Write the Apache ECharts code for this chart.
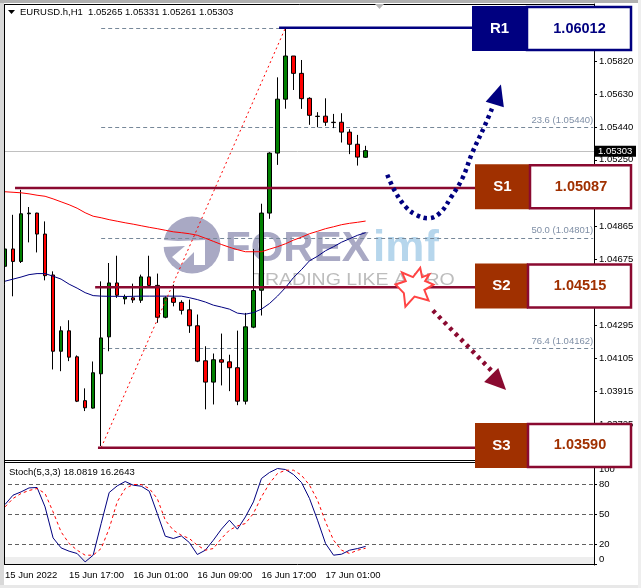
<!DOCTYPE html>
<html>
<head>
<meta charset="utf-8">
<title>EURUSD.h H1</title>
<script src="https://cdn.jsdelivr.net/npm/echarts@6/dist/echarts.min.js"></script>
<style>
  html, body { margin: 0; padding: 0; background: #fff; }
  #chart { width: 641px; height: 588px; }
</style>
</head>
<body>
<div id="chart"></div>
<script>
// [open, close, low, high], one row per H1 bar
const candles = [
  [1.04636,1.04736,1.04530,1.04945],[1.04736,1.04664,1.04463,1.04933],[1.04664,1.04939,1.04655,1.05077],
  [1.04939,1.04943,1.04774,1.04978],[1.04943,1.04822,1.04716,1.04945],[1.04822,1.04582,1.04555,1.04895],
  [1.04586,1.04146,1.04041,1.04607],[1.04146,1.04264,1.04031,1.04290],[1.04264,1.04112,1.04089,1.04325],
  [1.04114,1.03858,1.03853,1.04122],[1.03861,1.03820,1.03801,1.03932],[1.03818,1.04022,1.03815,1.04087],
  [1.04016,1.04223,1.03599,1.04549],[1.04229,1.04540,1.04146,1.04655],[1.04540,1.04469,1.04454,1.04697],
  [1.04448,1.04460,1.04417,1.04473],[1.04454,1.04442,1.04425,1.04536],[1.04440,1.04575,1.04425,1.04588],
  [1.04575,1.04526,1.04526,1.04697],[1.04526,1.04342,1.04310,1.04594],[1.04342,1.04454,1.04336,1.04463],
  [1.04454,1.04428,1.04405,1.04530],[1.04428,1.04382,1.04358,1.04440],[1.04385,1.04293,1.04252,1.04444],
  [1.04293,1.04089,1.04083,1.04358],[1.04091,1.03968,1.03811,1.04175],[1.03968,1.04097,1.03839,1.04133],
  [1.04097,1.04083,1.03949,1.04248],[1.04085,1.04051,1.03916,1.04126],[1.04051,1.03858,1.03835,1.04265],
  [1.03858,1.04287,1.03839,1.04367],[1.04285,1.04496,1.04279,1.04736],[1.04498,1.04943,1.04352,1.04997],
  [1.04943,1.05289,1.04910,1.05294],[1.05289,1.05600,1.05221,1.05726],[1.05600,1.05849,1.05545,1.06012],
  [1.05849,1.05749,1.05653,1.05849],[1.05749,1.05603,1.05544,1.05826],[1.05605,1.05507,1.05452,1.05611],
  [1.05502,1.05500,1.05438,1.05525],[1.05502,1.05467,1.05446,1.05605],[1.05467,1.05465,1.05433,1.05515],
  [1.05467,1.05410,1.05350,1.05519],[1.05410,1.05340,1.05283,1.05427],[1.05340,1.05266,1.05217,1.05394],
  [1.05265,1.05303,1.05261,1.05331]
]
const maSlow = [
  1.05066,1.05063,1.05060,1.05054,1.05046,1.05040,1.05025,1.05008,1.04991,1.04971,1.04945,1.04925,
  1.04916,1.04905,1.04896,1.04887,1.04879,1.04870,1.04861,1.04853,1.04844,1.04835,1.04830,1.04824,
  1.04815,1.04798,1.04780,1.04762,1.04746,1.04732,1.04720,1.04720,1.04720,1.04735,1.04749,1.04766,
  1.04787,1.04804,1.04824,1.04838,1.04853,1.04864,1.04876,1.04884,1.04890,1.04897
]
const maFast = [
  1.04550,1.04562,1.04574,1.04588,1.04594,1.04594,1.04579,1.04562,1.04533,1.04510,1.04484,1.04467,
  1.04464,1.04463,1.04463,1.04462,1.04463,1.04464,1.04464,1.04464,1.04464,1.04464,1.04464,1.04455,
  1.04444,1.04430,1.04412,1.04401,1.04389,1.04366,1.04360,1.04369,1.04389,1.04421,1.04464,1.04513,
  1.04571,1.04617,1.04668,1.04694,1.04726,1.04749,1.04775,1.04795,1.04815,1.04830
]
const stochK = [
  60,69.3,72.6,76.6,77,57.6,26.6,16.6,13.3,11,2.6,9.3,41,72,78.6,83,79.3,78.3,73.3,51,28.3,26,28.6,22,
  10,14.3,24.3,35.3,44.3,35.3,47.6,62.6,86,92,96,95,90,82,66,44.3,21,9.3,10.3,14.3,16,18.08
]
const stochD = [
  57.6,66,71,74,76,71,52.6,32.6,21,14.3,9.3,9.3,16,36,62.6,76,80,80,76,66,44.3,34.3,29.3,26,
  19.3,14.3,16,26,34.3,38.6,41,51,67.6,81,91,94.3,94.3,89.3,79.3,64.3,42.6,24.3,14.3,11,14.3,16.26
]

const priceTicks = [1.0582,1.0563,1.0544,1.0525,1.04865,1.04675,1.04295,1.04105,1.03915,1.03725]
const stochTicks = [0,20,50,80,100]
const stochLevels = [80,50,20]
const timeLabels = ['15 Jun 2022','15 Jun 17:00','16 Jun 01:00','16 Jun 09:00','16 Jun 17:00','17 Jun 01:00']

const currentPrice = 1.05303
const fibNames = ['23.6','50.0','76.4']
const fibPrices = [1.0544,1.04801,1.04162]
const fibTop = 1.06012
const fibBottom = 1.0359

const levelNames = ['R1','S1','S2','S3']
const levelPrices = [1.06012,1.05087,1.04515,1.0359]
const levelStarts = [34.2,1.25,11.25,11.6]

// x is a bar number, the two arrows run on past the last bar
const upArrow = [
  [47.7,1.05164],[48.7,1.05066],[50.0,1.04979],[51.3,1.04933],[52.8,1.04913],[54.3,1.04945],
  [55.7,1.05037],[57.1,1.05146],[58.3,1.05290],[59.8,1.05440],[60.8,1.05549]
]
const upArrowHead = [61.5,1.05627]
const downArrow = [[53.4,1.04381],[61.3,1.04006]]
const downArrowHead = [61.6,1.03966]
const breakMark = [51.1,1.04515]

const slots = 74
const lastSlot = 73.4
const labelFont = '"Liberation Sans", Arial, sans-serif'
const navy = '#000080'
const crimson = '#8a0a30'
const rust = '#a03000'

const categories = []
for (let i = 0; i < slots; i++) {
  categories.push(i % 8 === 0 && timeLabels[i / 8] ? timeLabels[i / 8] : '')
}
const barData = (vals) => vals.map((v, i) => [i, v])

const chart = echarts.init(document.getElementById('chart'))

// R1 / S1 / S2 / S3 boxes, hung on their price
const boxLeft = [472, 475, 475, 475]
const boxMid = [527, 530, 528, 528]
const boxShift = [0.8, -1.4, -1.4, -2.2]
const renderLevelBox = (params, api) => {
  const i = params.dataIndex
  const y = api.coord([0, api.value(1)])[1] + boxShift[i]
  const isR = levelNames[i][0] === 'R'
  const edge = isR ? navy : crimson
  const left = boxLeft[i]
  const mid = boxMid[i]
  const top = y - 22.5
  return {
    type: 'group',
    children: [
      { type: 'rect', shape: { x: left, y: top, width: mid - left, height: 45 }, style: { fill: isR ? navy : rust } },
      { type: 'rect', shape: { x: mid, y: top + 1, width: 632 - mid - 1, height: 43 }, style: { fill: '#fff', stroke: edge, lineWidth: 2.5 } },
      { type: 'text', style: { text: levelNames[i], x: (left + mid) / 2, y: y, align: 'center', verticalAlign: 'middle', fill: '#fff', font: 'bold 15px ' + labelFont } },
      { type: 'text', style: { text: levelPrices[i].toFixed(5), x: (mid + 632) / 2, y: y, align: 'center', verticalAlign: 'middle', fill: isR ? navy : rust, font: 'bold 14.5px ' + labelFont } }
    ]
  }
}

// thin level lines snapped to a pixel row so they stay crisp
const renderThinLine = (params, api) => {
  const p0 = api.coord([api.value(0), api.value(2)])
  const p1 = api.coord([api.value(1), api.value(2)])
  const y = Math.floor(p0[1] + 0.4) + 0.5
  const solid = api.value(3) === 1
  return {
    type: 'line',
    shape: { x1: p0[0], y1: y, x2: p1[0], y2: y },
    style: { stroke: solid ? '#c0c0c0' : '#778899', lineWidth: 1, lineDash: solid ? null : [4, 3] }
  }
}

const renderFibLabel = (params, api) => {
  const p = api.coord([lastSlot, api.value(1)])
  return {
    type: 'text',
    style: {
      text: fibNames[params.dataIndex] + ' (' + fibPrices[params.dataIndex].toFixed(5) + ')',
      x: p[0], y: p[1] - 2, align: 'right', verticalAlign: 'bottom',
      fill: '#7f8fa6', font: '9.5px ' + labelFont
    }
  }
}

const renderPriceTag = (params, api) => {
  const y = api.coord([0, api.value(1)])[1]
  return {
    type: 'group',
    children: [
      { type: 'rect', shape: { x: 595, y: y - 5, width: 41, height: 11 }, style: { fill: '#000' } },
      { type: 'text', style: { text: currentPrice.toFixed(5), x: 598, y: y + 0.5, align: 'left', verticalAlign: 'middle', fill: '#fff', font: '9.5px ' + labelFont } }
    ]
  }
}

const overlay = { xAxisIndex: 1, yAxisIndex: 0 }
const levelLine = (x0, price, color) => ({
  type: 'line', ...overlay, silent: true, showSymbol: false, z: 4,
  lineStyle: { color: color, width: 2.5 },
  data: [[x0, price], [60, price]]
})

chart.setOption({
  animation: false,
  backgroundColor: '#fff',
  textStyle: { fontFamily: labelFont },
  grid: [
    { left: 1, top: 4, width: 593, height: 457 },
    { left: 1, top: 462, width: 593, height: 103 }
  ],
  xAxis: [
    { type: 'category', gridIndex: 0, data: categories, show: false },
    { type: 'value', gridIndex: 0, min: -0.5, max: slots - 0.5, show: false },
    {
      type: 'category', gridIndex: 1, data: categories,
      axisLine: { lineStyle: { color: '#000' } },
      axisTick: { alignWithLabel: true, length: 3, lineStyle: { color: '#000' }, interval: (i) => i % 8 === 0 && i < 48 },
      axisLabel: { interval: 7, align: 'left', margin: 5, color: '#000', fontSize: 9.5, fontFamily: labelFont, hideOverlap: false }
    }
  ],
  yAxis: [
    {
      type: 'value', gridIndex: 0, position: 'right', min: 1.03513, max: 1.06149, splitLine: { show: false },
      axisLine: { show: true, onZero: false, lineStyle: { color: '#000' } },
      axisTick: { show: true, length: 3, customValues: priceTicks, lineStyle: { color: '#000' } },
      axisLabel: { customValues: priceTicks, margin: 5, color: '#000', fontSize: 9.5, fontFamily: labelFont, formatter: (v) => v.toFixed(5) }
    },
    {
      type: 'value', gridIndex: 1, position: 'right', min: -0.5, max: 102.5, splitLine: { show: false },
      axisLine: { show: true, onZero: false, lineStyle: { color: '#000' } },
      axisTick: { show: true, length: 3, customValues: stochTicks, lineStyle: { color: '#000' } },
      axisLabel: {
        customValues: stochTicks, margin: 5, color: '#000', fontSize: 9.5, fontFamily: labelFont,
        verticalAlignMinLabel: 'bottom', verticalAlignMaxLabel: 'top'
      }
    }
  ],
  graphic: [
    // FOREXimf watermark, behind the candles
    { type: 'circle', z: -1, shape: { cx: 192, cy: 245, r: 28.5 }, style: { fill: '#a9a9c4' } },
    { type: 'polygon', z: -1, shape: { points: [[163,240],[178,241],[205,240],[205,265],[194,265],[194,252],[181,265],[172,257],[185,246],[163,247]] }, style: { fill: '#fff' } },
    { type: 'text', z: -1, style: { text: 'FOREX', x: 225, y: 249, verticalAlign: 'middle', fill: '#a9a9c4', font: 'bold 42px ' + labelFont } },
    { type: 'text', z: -1, style: { text: 'imf', x: 373, y: 249, verticalAlign: 'middle', fill: '#b6d6ec', font: 'bold 44px ' + labelFont } },
    { type: 'text', z: -1, x: 253, y: 281, scaleX: 1.22, style: { text: 'TRADING LIKE A PRO', x: 0, y: 0, verticalAlign: 'middle', fill: '#bdbdbd', font: '16px ' + labelFont } },
    // window edges and panel frame
    { type: 'rect', z: 50, shape: { x: 0, y: 0, width: 4, height: 588 }, style: { fill: '#d8d8d8' } },
    { type: 'rect', z: 50, shape: { x: 0, y: 0, width: 641, height: 3 }, style: { fill: '#b0b0b0' } },
    { type: 'rect', z: 50, shape: { x: 0, y: 585, width: 641, height: 3 }, style: { fill: '#e8e8e8' } },
    { type: 'rect', z: 50, shape: { x: 638, y: 0, width: 3, height: 588 }, style: { fill: '#eeeeee' } },
    { type: 'line', z: 51, shape: { x1: 4.5, y1: 4.5, x2: 594, y2: 4.5 }, style: { stroke: '#000' } },
    { type: 'line', z: 51, shape: { x1: 4.5, y1: 4, x2: 4.5, y2: 565 }, style: { stroke: '#000' } },
    { type: 'line', z: 6, shape: { x1: 4, y1: 460.5, x2: 594, y2: 460.5 }, style: { stroke: '#000' } },
    { type: 'line', z: 6, shape: { x1: 4, y1: 462.5, x2: 594, y2: 462.5 }, style: { stroke: '#000' } },
    // header texts
    { type: 'polygon', z: 52, shape: { points: [[8,10],[15,10],[11.5,14]] }, style: { fill: '#000' } },
    { type: 'polygon', z: 52, shape: { points: [[375,4],[384,4],[379.5,9]] }, style: { fill: '#b8b8b8' } },
    { type: 'text', z: 52, style: { text: 'EURUSD.h,H1  1.05265 1.05331 1.05261 1.05303', x: 20, y: 12.5, verticalAlign: 'middle', fill: '#000', font: '9.5px ' + labelFont } },
    { type: 'text', z: 52, style: { text: 'Stoch(5,3,3) 18.0819 16.2643', x: 9, y: 472, verticalAlign: 'middle', fill: '#000', font: '9.5px ' + labelFont } }
  ],
  series: [
    // fibonacci levels and the current price line sit behind the bars
    {
      type: 'custom', ...overlay, z: 1, silent: true,
      renderItem: renderThinLine,
      data: [
        [12, lastSlot, fibTop, 0],
        ...fibPrices.map((p) => [12, lastSlot, p, 0]),
        [-0.5, slots - 0.5, currentPrice, 1]
      ]
    },
    {
      type: 'custom', ...overlay, z: 1, silent: true, clip: false,
      renderItem: renderFibLabel,
      data: fibPrices.map((p, i) => [i, p])
    },
    {
      type: 'candlestick', xAxisIndex: 0, yAxisIndex: 0, z: 2, barWidth: 4,
      itemStyle: { color: '#008000', color0: '#ff0000', borderColor: '#000', borderColor0: '#000', borderWidth: 1 },
      data: candles
    },
    {
      type: 'line', xAxisIndex: 0, yAxisIndex: 0, z: 3, showSymbol: false, silent: true,
      lineStyle: { color: '#ff0000', width: 1 }, data: maSlow
    },
    {
      type: 'line', xAxisIndex: 0, yAxisIndex: 0, z: 3, showSymbol: false, silent: true,
      lineStyle: { color: '#000080', width: 1 }, data: maFast
    },
    {
      type: 'line', ...overlay, z: 3, showSymbol: false, silent: true,
      lineStyle: { color: '#ff0000', width: 1, type: [2, 3] },
      data: [[12, fibBottom], [35, fibTop]]
    },
    // support and resistance lines run into their boxes
    ...levelPrices.map((p, i) => levelLine(levelStarts[i], p, i === 0 ? navy : crimson)),
    {
      type: 'line', ...overlay, z: 5, smooth: 0.4, showSymbol: false, silent: true,
      lineStyle: { color: navy, width: 4.5, type: [3.5, 3.8], cap: 'butt' }, data: upArrow
    },
    {
      type: 'scatter', ...overlay, z: 5, silent: true, symbol: 'triangle', symbolSize: [19, 21], symbolRotate: -17,
      itemStyle: { color: navy, opacity: 1 }, data: [upArrowHead]
    },
    {
      type: 'line', ...overlay, z: 5, showSymbol: false, silent: true,
      lineStyle: { color: crimson, width: 4.5, type: [3.5, 4.5], cap: 'butt' }, data: downArrow
    },
    {
      type: 'scatter', ...overlay, z: 5, silent: true, symbol: 'triangle', symbolSize: [20, 21], symbolRotate: -135,
      itemStyle: { color: crimson, opacity: 1 }, data: [downArrowHead]
    },
    {
      type: 'scatter', ...overlay, z: 6, silent: true,
      symbol: 'path://M65 0L70 24L89 17L78 34L100 43L76 57L87 84L50 74L26 100L22 65L0 43L27 34L17 12L46 24Z',
      symbolSize: [38, 39],
      itemStyle: { color: '#fff', borderColor: '#ff4444', borderWidth: 2, opacity: 1 },
      data: [breakMark]
    },
    {
      type: 'custom', ...overlay, z: 10, silent: true, clip: false,
      renderItem: renderLevelBox,
      data: levelPrices.map((p, i) => [i, p])
    },
    {
      type: 'custom', ...overlay, z: 9, silent: true, clip: false,
      renderItem: renderPriceTag,
      data: [[0, currentPrice]]
    },
    // stochastic panel
    {
      type: 'line', xAxisIndex: 2, yAxisIndex: 1, z: 3, showSymbol: false, silent: true,
      lineStyle: { color: '#000080', width: 1 }, data: barData(stochK),
      markLine: {
        silent: true, symbol: 'none', label: { show: false }, z: 1,
        lineStyle: { color: '#606060', width: 1, type: [4, 3] },
        data: stochLevels.map((v) => ({ yAxis: v }))
      },
      markArea: {
        silent: true, z: 0, itemStyle: { color: '#eeeeee' },
        data: [[{ yAxis: -0.5 }, { yAxis: 7.6 }]]
      }
    },
    {
      type: 'line', xAxisIndex: 2, yAxisIndex: 1, z: 3, showSymbol: false, silent: true,
      lineStyle: { color: '#ff0000', width: 1, type: [3, 3] }, data: barData(stochD)
    }
  ]
})
</script>
</body>
</html>
